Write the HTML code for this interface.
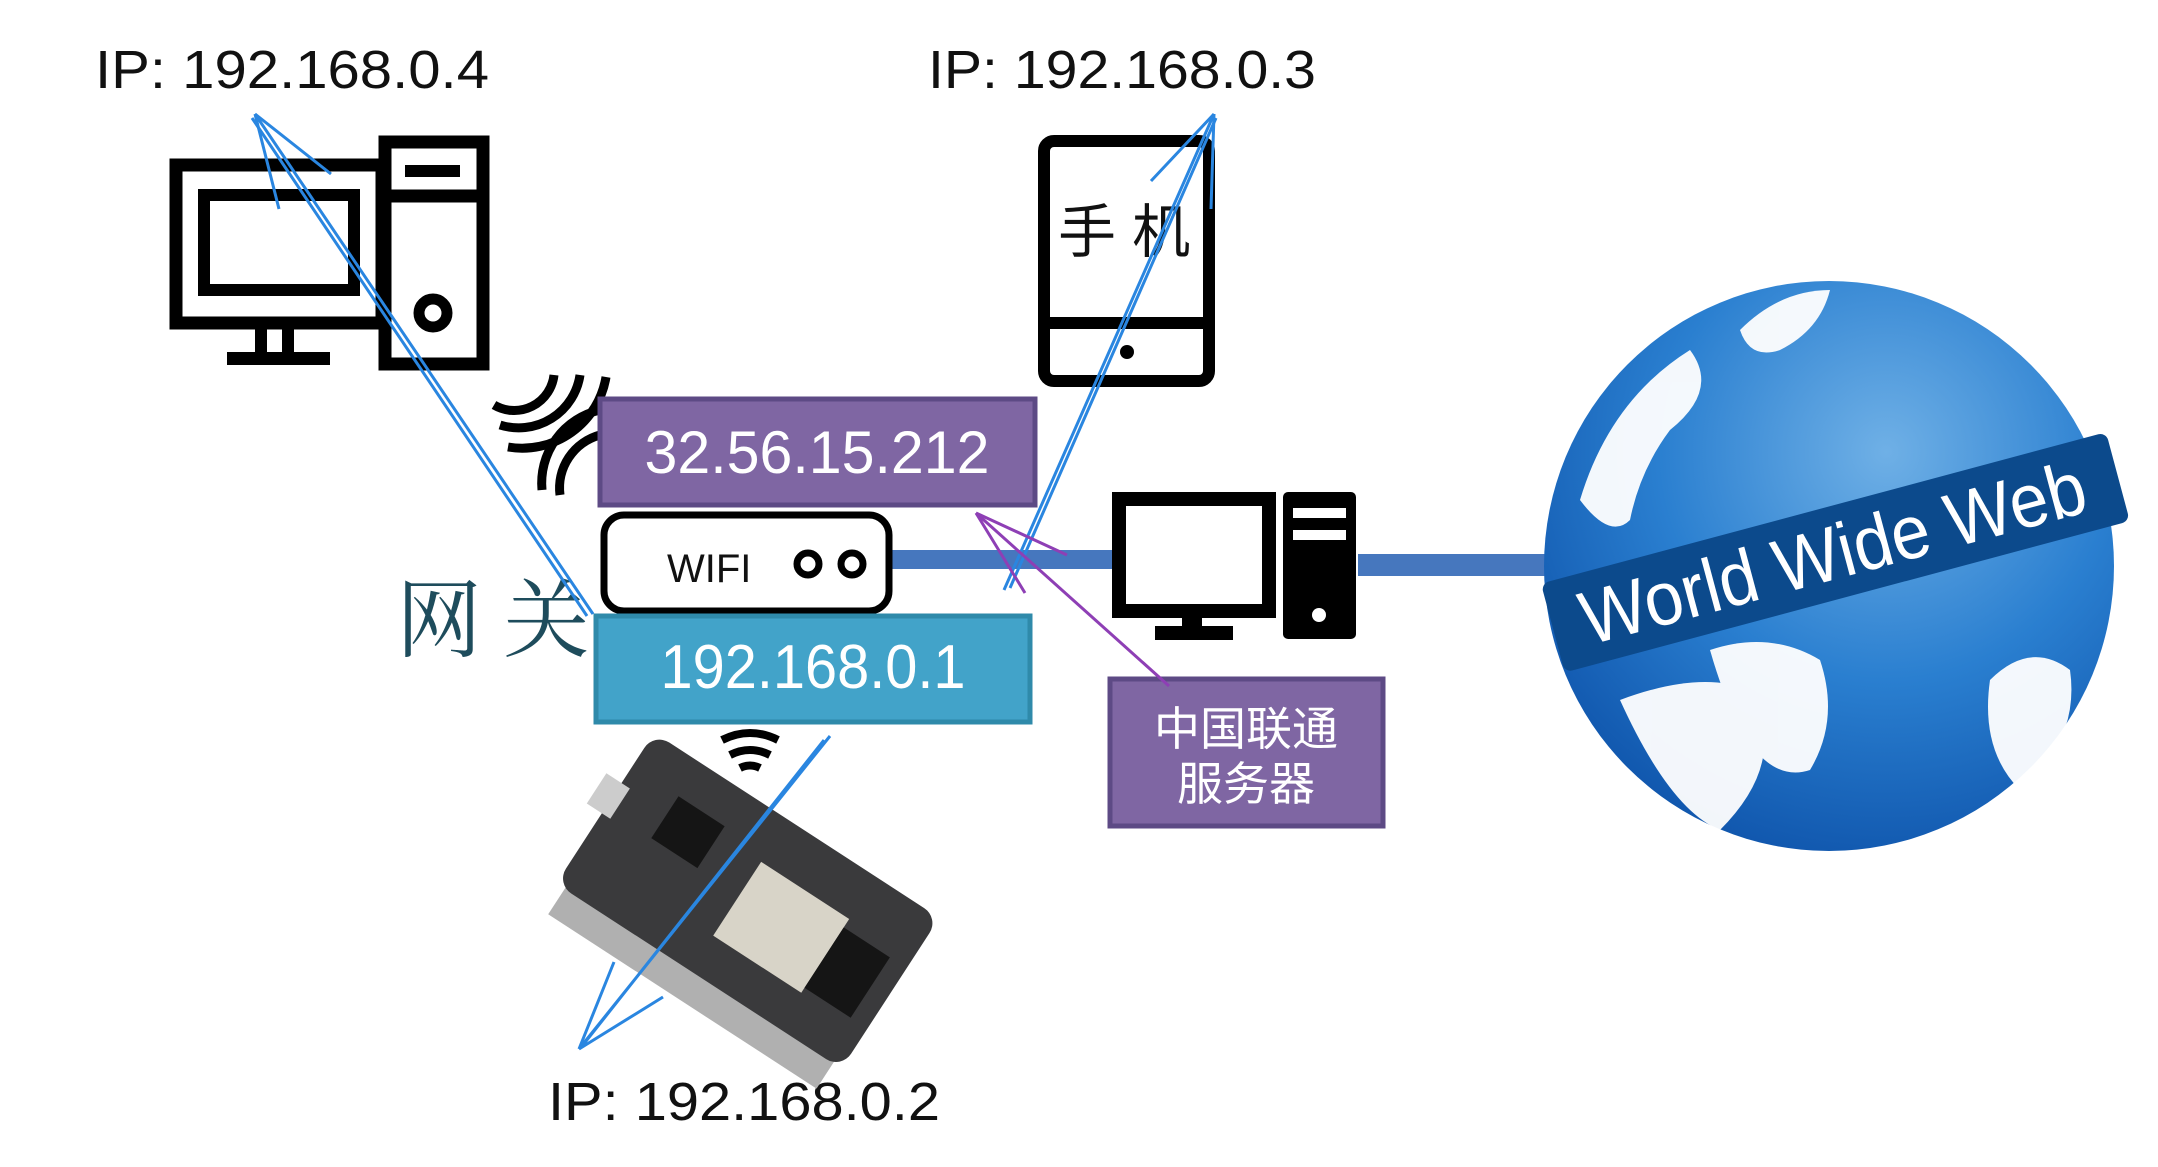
<!DOCTYPE html>
<html><head><meta charset="utf-8"><style>
html,body{margin:0;padding:0;background:#fff;}
svg{display:block;}
</style></head><body>
<svg width="2158" height="1167" viewBox="0 0 2158 1167" xmlns="http://www.w3.org/2000/svg">
<defs>
<radialGradient id="gl" cx="0.6" cy="0.3" r="0.8">
<stop offset="0" stop-color="#6fb0e6"/><stop offset="0.5" stop-color="#2a7fd0"/><stop offset="1" stop-color="#0b4ea6"/>
</radialGradient>
</defs>
<g font-family="Liberation Sans, sans-serif" fill="#111">
<text x="95" y="88" font-size="54" textLength="394" lengthAdjust="spacingAndGlyphs">IP: 192.168.0.4</text>
<text x="928" y="88" font-size="54" textLength="388" lengthAdjust="spacingAndGlyphs">IP: 192.168.0.3</text>
<text x="548" y="1120" font-size="54" textLength="392" lengthAdjust="spacingAndGlyphs">IP: 192.168.0.2</text>
</g>
<!-- PC icon -->
<g fill="none" stroke="#000" stroke-width="13">
<rect x="176" y="165" width="206" height="158"/>
<rect x="204" y="195" width="150" height="95" stroke-width="12"/>
<rect x="385" y="142" width="98" height="222"/>
<line x1="385" y1="196" x2="483" y2="196"/>
</g>
<rect x="405" y="165" width="55" height="12" fill="#000"/>
<circle cx="433" cy="313" r="14" fill="none" stroke="#000" stroke-width="11"/>
<rect x="255" y="323" width="12" height="35" fill="#000"/><rect x="282" y="323" width="12" height="35" fill="#000"/>
<rect x="227" y="352" width="103" height="13" fill="#000"/>
<!-- Phone -->
<rect x="1044" y="141" width="165" height="240" rx="10" fill="none" stroke="#000" stroke-width="12"/>
<line x1="1044" y1="323" x2="1209" y2="323" stroke="#000" stroke-width="12"/>
<circle cx="1127" cy="352" r="7" fill="#000"/>
<text x="1058" y="252" font-family="Liberation Sans, Noto Sans CJK SC, sans-serif" font-size="58" fill="#111">手 机</text>
<!-- wifi arcs left -->
<g fill="none" stroke="#000" stroke-width="9">
<path d="M494 405 a40 40 0 0 0 60 -30"/><path d="M500 425 a62 62 0 0 0 80 -50"/><path d="M508 447 a85 85 0 0 0 98 -70"/>
<path d="M560 495 a55 55 0 0 1 40 -60"/><path d="M542 490 a75 75 0 0 1 58 -80"/>
</g>
<!-- bars -->
<rect x="890" y="550" width="222" height="19" fill="#4677be"/>
<rect x="1358" y="554" width="225" height="22" fill="#4677be"/>
<!-- purple box -->
<rect x="600" y="399" width="435" height="106" fill="#7f66a3" stroke="#5d4a85" stroke-width="5"/>
<text x="817" y="473" font-family="Liberation Sans, sans-serif" font-size="60" fill="#fff" text-anchor="middle" textLength="345" lengthAdjust="spacingAndGlyphs">32.56.15.212</text>
<!-- wifi router -->
<rect x="604" y="515" width="285" height="96" rx="20" fill="#fff" stroke="#000" stroke-width="7"/>
<text x="667" y="582" font-family="Liberation Sans, sans-serif" font-size="40" fill="#111">WIFI</text>
<circle cx="808" cy="564" r="11" fill="none" stroke="#000" stroke-width="7"/>
<circle cx="852" cy="564" r="11" fill="none" stroke="#000" stroke-width="7"/>
<!-- cyan box -->
<rect x="596" y="616" width="434" height="106" fill="#42a3c9" stroke="#2f8aaa" stroke-width="5"/>
<text x="813" y="688" font-family="Liberation Sans, sans-serif" font-size="62" fill="#fff" text-anchor="middle" textLength="305" lengthAdjust="spacingAndGlyphs">192.168.0.1</text>
<text x="396" y="650" font-family="Liberation Serif, Noto Serif CJK SC, serif" font-size="86" fill="#1e4c5c">网 关</text>
<!-- server icon -->
<rect x="1119" y="499" width="150" height="112" fill="none" stroke="#000" stroke-width="14"/>
<rect x="1182" y="611" width="20" height="20" fill="#000"/>
<rect x="1155" y="626" width="78" height="14" fill="#000"/>
<rect x="1283" y="492" width="73" height="147" rx="5" fill="#000"/>
<rect x="1293" y="508" width="53" height="10" fill="#fff"/><rect x="1293" y="530" width="53" height="10" fill="#fff"/>
<circle cx="1319" cy="615" r="7" fill="#fff"/>
<!-- unicom box -->
<rect x="1110" y="679" width="273" height="147" fill="#7f66a3" stroke="#5d4a85" stroke-width="5"/>
<text x="1246" y="745" font-family="Liberation Sans, Noto Sans CJK SC, sans-serif" font-size="46" fill="#fff" text-anchor="middle">中国联通</text>
<text x="1246" y="800" font-family="Liberation Sans, Noto Sans CJK SC, sans-serif" font-size="46" fill="#fff" text-anchor="middle">服务器</text>
<!-- wifi arcs below -->
<g fill="none" stroke="#000" stroke-width="8">
<path d="M722 740 q28 -14 56 0"/><path d="M730 755 q20 -10 40 0"/><path d="M740 768 q10 -5 20 0"/>
</g>
<!-- ESP board -->
<g transform="translate(745,905) rotate(33)">
<rect x="-160" y="40" width="320" height="75" fill="#b0b0b0"/>
<rect x="-170" y="-95" width="340" height="180" rx="18" fill="#3a3a3c"/>
<rect x="-10" y="-45" width="105" height="88" fill="#d8d4c8"/>
<rect x="95" y="-35" width="55" height="72" fill="#151515"/>
<rect x="-115" y="-55" width="55" height="50" fill="#151515"/>
<rect x="-188" y="-35" width="28" height="36" fill="#ccc"/>
</g>
<!-- globe -->
<circle cx="1829" cy="566" r="285" fill="url(#gl)"/>
<g fill="#fff" opacity="0.95">
<path d="M1580 500 q30 -100 110 -150 q30 40 -20 80 q-30 40 -40 90 q-20 20 -50 -20z"/>
<path d="M1620 700 q80 -30 130 -10 q40 70 -30 140 q-50 -20 -100 -130z"/>
<path d="M1710 650 q60 -20 110 10 q20 60 -10 110 q-60 20 -100 -120z"/>
<path d="M1990 680 q40 -40 80 -10 q10 70 -50 120 q-40 -40 -30 -110z"/>
<path d="M1740 330 q40 -40 90 -40 q-10 40 -50 60 q-30 10 -40 -20z"/>
</g>
<g transform="translate(1833,553) rotate(-15)">
<rect x="-290" y="-46" width="585" height="92" rx="8" fill="#0c4a8c"/>
<text x="0" y="26" font-family="Liberation Sans, sans-serif" font-size="76" fill="#fff" text-anchor="middle" textLength="520" lengthAdjust="spacingAndGlyphs">World Wide Web</text>
</g>
<!-- hand-drawn arrows -->
<g fill="none" stroke="#2a86e0" stroke-width="3">
<path d="M593 614 L255 114 M587 616 L252 118"/>
<path d="M255 114 L331 174 M255 114 L279 209"/>
<path d="M1004 590 L1214 114 M1010 588 L1216 118"/>
<path d="M1214 114 L1151 181 M1214 114 L1211 209"/>
<path d="M830 736 L579 1049 M824 740 L583 1045"/>
<path d="M579 1049 L614 962 M579 1049 L663 997"/>
</g>
<g fill="none" stroke="#8e3fb5" stroke-width="3">
<path d="M1169 686 L976 513"/>
<path d="M976 513 L1067 555 M976 513 L1025 593"/>
</g>
</svg>
</body></html>
